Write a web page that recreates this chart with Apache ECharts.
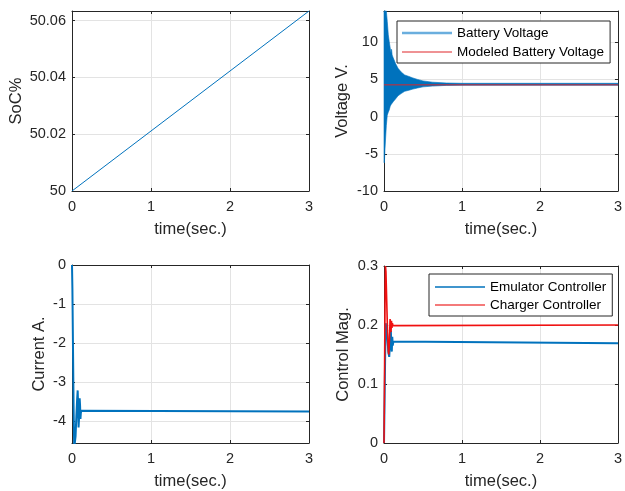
<!DOCTYPE html>
<html>
<head>
<meta charset="utf-8">
<script src="https://cdn.jsdelivr.net/npm/echarts@6/dist/echarts.min.js"></script>
<style>html,body{margin:0;padding:0;background:#fff;}#c{width:625px;height:491px;}</style>
</head>
<body>
<div id="c"></div>
<script>
// ---- data ----
const socT = [0, 3];
const socV = [50, 50.0634];

const bvT     = [0,    0.005, 0.012, 0.02, 0.03, 0.042, 0.055, 0.067, 0.08, 0.09, 0.097, 0.104, 0.118, 0.15, 0.18, 0.22, 0.265, 0.32, 0.37, 0.43, 0.5,  0.62, 0.8,  1.0,  3.0];
const bvUpper = [14.5, 14.5,  14.5,  14.5, 14.5, 12.8, 11.0,  10.1,  9.2,  8.6,  9.05,  8.3,   7.9,   7.1,  6.5,  6.0,  5.6,   5.4,  5.2,  5.0,  4.8,  4.63, 4.52, 4.48, 4.48];
const bvLower = [-6.2, -6.2,  -4.5,  -3.0, -1.2, 0.2,  0.6,   0.9,   1.4,  1.6,  1.7,   1.8,   2.0,   2.4,  2.8,  3.1,  3.4,   3.55, 3.7,  3.85, 4.0,  4.1,  4.2,  4.22, 4.22];
const modT = [0, 3];
const modV = [4.27, 4.27];

const curT = [0, 0.005, 0.012, 0.02, 0.028, 0.036, 0.045, 0.055, 0.065, 0.072, 0.077, 0.083, 0.09, 0.097, 0.102, 0.107, 0.112, 0.118, 0.14, 3];
const curV = [0, -0.6, -2.0, -3.6, -4.7, -4.75, -4.4, -3.9, -3.45, -3.22, -3.6, -4.17, -3.9, -3.42, -3.6, -3.95, -3.8, -3.74, -3.76, -3.76];

const emT = [0, 0.005, 0.01, 0.015, 0.022, 0.03, 0.04, 0.05, 0.058, 0.067, 0.075, 0.082, 0.088, 0.094, 0.1, 0.106, 0.112, 0.12, 0.14, 3];
const emV = [0, 0.05, 0.1, 0.149, 0.203, 0.2, 0.185, 0.165, 0.152, 0.146, 0.165, 0.185, 0.19, 0.165, 0.155, 0.18, 0.165, 0.172, 0.169, 0.169];
const chT = [0, 0.005, 0.01, 0.015, 0.019, 0.025, 0.035, 0.045, 0.055, 0.062, 0.07, 0.078, 0.084, 0.09, 0.096, 0.102, 0.108, 0.115, 0.13, 3];
const chV = [0, 0.08, 0.18, 0.27, 0.3, 0.29, 0.24, 0.19, 0.155, 0.15, 0.175, 0.21, 0.2, 0.188, 0.207, 0.195, 0.203, 0.199, 0.2, 0.2];

const xTicks = [0, 1, 2, 3];

// ---- styling ----
const FONT = 'Liberation Sans, Arial, Helvetica, sans-serif';
const AX = '#262626';
const GRIDC = '#e3e3e3';
const pairs = (a, b) => a.map((v, i) => [v, b[i]]);

const grids = [
  {left: 72, top: 11, width: 237, height: 180},
  {left: 384, top: 11, width: 238, height: 180},
  {left: 72, top: 265, width: 237, height: 178},
  {left: 384, top: 266, width: 238, height: 177}
];

function xAxes(gi) {
  const base = {
    gridIndex: gi, type: 'value', min: xTicks[0], max: xTicks[xTicks.length - 1], interval: 1,
    axisLine: {show: true, onZero: false, lineStyle: {color: AX, width: 1}},
    axisTick: {show: true, inside: true, length: 3, lineStyle: {color: AX}},
  };
  return [
    Object.assign({}, base, {
      position: 'bottom', name: 'time(sec.)', nameLocation: 'middle', nameGap: 30,
      nameTextStyle: {fontFamily: FONT, fontSize: 16.5, color: AX},
      axisLabel: {show: true, margin: 8, fontFamily: FONT, fontSize: 14.5, color: AX},
      splitLine: {show: true, lineStyle: {color: GRIDC, width: 1}}
    }),
    Object.assign({}, base, {position: 'top', axisLabel: {show: false}, splitLine: {show: false}})
  ];
}
function yAxes(gi, opt) {
  const base = {
    gridIndex: gi, type: 'value', min: opt.min, max: opt.max,
    axisLine: {show: true, onZero: false, lineStyle: {color: AX, width: 1}},
    axisTick: {show: true, inside: true, length: 3, lineStyle: {color: AX}},
  };
  if (opt.interval) base.interval = opt.interval; else base.splitNumber = opt.splitNumber;
  return [
    Object.assign({}, base, {
      position: 'left', name: opt.name, nameLocation: 'middle', nameGap: opt.nameGap,
      nameTextStyle: {fontFamily: FONT, fontSize: 16.5, color: AX},
      axisLabel: {show: true, margin: 6, fontFamily: FONT, fontSize: 14.5, color: AX,
        showMinLabel: opt.showMin !== false, showMaxLabel: opt.showMax !== false},
      splitLine: {show: true, lineStyle: {color: GRIDC, width: 1}}
    }),
    Object.assign({}, base, {position: 'right', axisLabel: {show: false}, splitLine: {show: false}})
  ];
}

const xAxis = [].concat(xAxes(0), xAxes(1), xAxes(2), xAxes(3));
const yAxis = [].concat(
  yAxes(0, {min: 50, max: 50.0634, splitNumber: 3, name: 'SoC%', nameGap: 47, showMax: false}),
  yAxes(1, {min: -10, max: 14.2, splitNumber: 5, name: 'Voltage V.', nameGap: 33, showMax: false}),
  yAxes(2, {min: -4.57, max: 0, splitNumber: 5, name: 'Current A.', nameGap: 24, showMin: false}),
  yAxes(3, {min: 0, max: 0.3, interval: 0.1, name: 'Control Mag.', nameGap: 32})
);

const BLUE = '#0072BD';
const RED = '#f01010';

const series = [
  {name: 'SoC', type: 'line', xAxisIndex: 0, yAxisIndex: 0, data: pairs(socT, socV),
   symbol: 'none', itemStyle: {color: BLUE}, lineStyle: {color: BLUE, width: 1}},
  {name: 'Battery Voltage', type: 'custom', xAxisIndex: 2, yAxisIndex: 2, data: [[0, 0]],
   itemStyle: {color: '#6aaede'},
   renderItem: function (params, api) {
     if (params.dataIndex !== 0) return null;
     const pts = [];
     for (let i = 0; i < bvT.length; i++) pts.push(api.coord([bvT[i], bvUpper[i]]));
     for (let i = bvT.length - 1; i >= 0; i--) pts.push(api.coord([bvT[i], bvLower[i]]));
     const cs = params.coordSys;
     const clipped = echarts.graphic.clipPointsByRect(pts, {x: cs.x, y: cs.y, width: cs.width, height: cs.height});
     return {type: 'polygon', shape: {points: clipped}, style: {fill: BLUE, stroke: BLUE, lineWidth: 0.6}};
   }},
  {name: 'Modeled Battery Voltage', type: 'line', xAxisIndex: 2, yAxisIndex: 2, data: pairs(modT, modV),
   symbol: 'none', itemStyle: {color: '#d9262b'}, lineStyle: {color: '#d9262b', width: 1}, z: 3},
  {name: 'Current', type: 'line', xAxisIndex: 4, yAxisIndex: 4, data: pairs(curT, curV),
   symbol: 'none', itemStyle: {color: BLUE}, lineStyle: {color: BLUE, width: 2}},
  {name: 'Emulator Controller', type: 'line', xAxisIndex: 6, yAxisIndex: 6, data: pairs(emT, emV),
   symbol: 'none', itemStyle: {color: BLUE}, lineStyle: {color: BLUE, width: 2}},
  {name: 'Charger Controller', type: 'line', xAxisIndex: 6, yAxisIndex: 6, data: pairs(chT, chV),
   symbol: 'none', itemStyle: {color: RED}, lineStyle: {color: RED, width: 1.6}}
];

const legendText = {fontFamily: FONT, fontSize: 13.5, color: '#000'};
const legend = [
  {orient: 'vertical', left: 397, top: 21, itemWidth: 50, itemHeight: 14, itemGap: 5,
   padding: [5, 6, 4, 5], borderColor: AX, borderWidth: 1, backgroundColor: '#fff',
   selectedMode: false, textStyle: legendText,
   data: [
     {name: 'Battery Voltage', icon: 'path://M0,0H50V2.4H0Z', itemStyle: {color: '#6aaede'}},
     {name: 'Modeled Battery Voltage', icon: 'path://M0,0H50V1.1H0Z', itemStyle: {color: '#e0262b'}}
   ]},
  {orient: 'vertical', left: 429, top: 274, itemWidth: 50, itemHeight: 14, itemGap: 4,
   padding: [6, 6, 4, 6], borderColor: AX, borderWidth: 1, backgroundColor: '#fff',
   selectedMode: false, textStyle: legendText,
   data: [
     {name: 'Emulator Controller', icon: 'path://M0,0H50V1.4H0Z', itemStyle: {color: BLUE}},
     {name: 'Charger Controller', icon: 'path://M0,0H50V2H0Z', itemStyle: {color: '#f47a7a'}}
   ]}
];

const chart = echarts.init(document.getElementById('c'), null, {renderer: 'canvas'});
chart.setOption({
  backgroundColor: '#fff',
  animation: false,
  grid: grids,
  xAxis: xAxis,
  yAxis: yAxis,
  legend: legend,
  series: series
});
</script>
</body>
</html>
